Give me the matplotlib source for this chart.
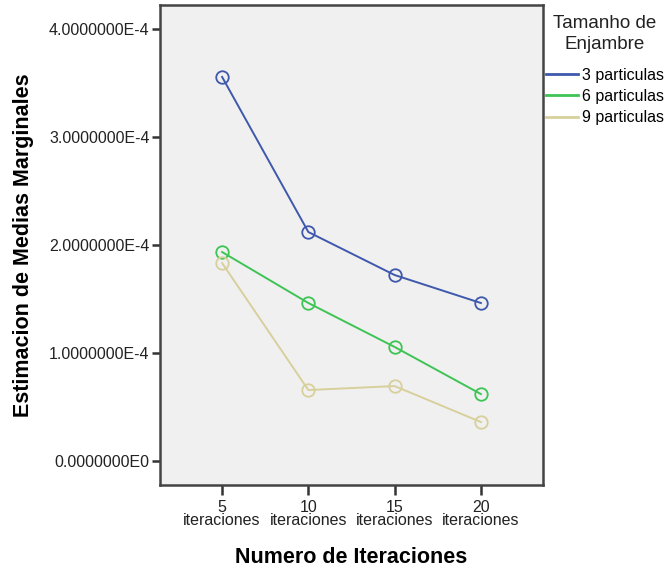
import matplotlib
matplotlib.use("Agg")
import matplotlib.pyplot as plt
from matplotlib.ticker import FuncFormatter

plt.rcParams['font.family'] = ['Liberation Sans', 'DejaVu Sans']

iteraciones = ["5\niteraciones", "10\niteraciones", "15\niteraciones", "20\niteraciones"]
series_names = ["3 particulas", "6 particulas", "9 particulas"]
medias_3 = [3.556e-4, 2.12e-4, 1.722e-4, 1.463e-4]
medias_6 = [1.935e-4, 1.463e-4, 1.056e-4, 0.62e-4]
medias_9 = [1.833e-4, 0.657e-4, 0.694e-4, 0.361e-4]
colores = ["#3E58AC", "#3EC454", "#D8D09C"]
y_ticks = [0.0, 1e-4, 2e-4, 3e-4, 4e-4]

fig = plt.figure(figsize=(6.67, 5.71), dpi=100)
ax = fig.add_axes([160/667, 1-485/571, 383/667, 480/571])
ax.set_facecolor("#F0F0F0")

x = list(range(len(iteraciones)))
lines = []
for vals, name, col in zip([medias_3, medias_6, medias_9], series_names, colores):
    ln, = ax.plot(x, vals, color=col, lw=1.4, marker='o', markersize=9,
                  markerfacecolor='none', markeredgecolor=col, markeredgewidth=1.3,
                  label=name)
    lines.append(ln)

ax.set_xlim(-0.72, 3.72)
ax.set_ylim(-0.222e-4, 4.222e-4)
ax.set_xticks(x)
ax.set_xticklabels(iteraciones, linespacing=0.8)
ax.set_yticks(y_ticks)

def fmt(v, pos):
    if v == 0:
        return "0.0000000E0"
    s = "%.7E" % v
    mant, exp = s.split("E")
    return "%sE%d" % (mant, int(exp))

ax.yaxis.set_major_formatter(FuncFormatter(fmt))
ax.tick_params(axis='both', direction='out', length=7, width=1.8, color="#333333",
               labelsize=11.5, labelcolor="#222222")
ax.tick_params(axis='x', pad=4)
ax.tick_params(axis='y', pad=1.5, length=6)
for sp in ax.spines.values():
    sp.set_linewidth(1.8)
    sp.set_color("#444444")

ax.set_ylabel("Estimacion de Medias Marginales", fontsize=15.5, fontweight='bold', labelpad=11)
ax.set_xlabel("Numero de Iteraciones", fontsize=15.5, fontweight='bold', labelpad=14)

# Legend title drawn as centred text, entries below it
fig.text(605/667, 1-34/571, "Tamanho de\nEnjambre", ha='center', va='center',
         fontsize=13.5, linespacing=1.3, color="#222222")
leg = fig.legend(handles=lines, labels=series_names,
                 loc='upper left', bbox_to_anchor=(544/667, 1-66/571), frameon=False,
                 fontsize=11.5, handlelength=2.0, handletextpad=0.3,
                 labelspacing=0.4, borderaxespad=0, borderpad=0.1)
for h in leg.legend_handles:
    h.set_marker('')
    h.set_linewidth(2)

fig.savefig("out.png", dpi=100)
